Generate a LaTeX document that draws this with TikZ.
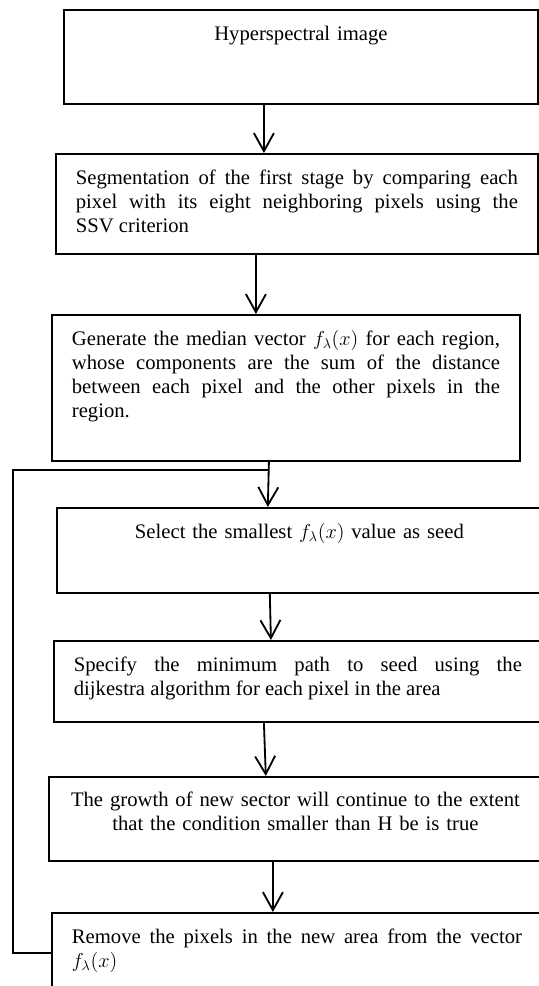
\documentclass[tikz,border=0pt]{standalone}
\usepackage{fontspec}
\setmainfont{Liberation Serif}
\usepackage{tikz}
\usetikzlibrary{positioning,calc,arrows.meta}

\tikzset{
  stepbox/.style={draw, line width=1.3pt, rectangle, anchor=north west,
    inner xsep=0.5cm, inner ysep=0pt, text height=0.775cm, align=justify,
    font=\fontsize{14.7}{17.07}\selectfont},
  flow/.style={line width=1.3pt, -{Straight Barb[length=4.5mm, width=5mm]}},
  loopline/.style={line width=1.3pt},
}

\begin{document}
\begin{tikzpicture}
  \useasboundingbox (0,0) rectangle (13.45,-24.65);

  % Steps
  \node[stepbox, align=center, text width=10.85cm, text depth=1.575cm] (b1) at (1.575,-0.225)
    {Hyperspectral image};
  \node[stepbox, text width=11.05cm, text depth=1.725cm] (b2) at (1.375,-3.825)
    {Segmentation of the first stage by comparing each\linebreak pixel with its eight neighboring pixels using the\linebreak SSV criterion};
  \node[stepbox, text width=10.7cm, text depth=2.875cm] (b3) at (1.275,-7.85)
    {Generate the median vector $f_\lambda(x)$ for each region,\linebreak whose components are the sum of the distance\linebreak between each pixel and the other pixels in the\linebreak region.};
  \node[stepbox, align=center, text width=11.125cm, text depth=1.35cm] (b4) at (1.4,-12.675)
    {Select the smallest $f_\lambda(x)$ value as seed};
  \node[stepbox, text width=11.2cm, text depth=1.25cm] (b5) at (1.325,-16)
    {Specify the minimum path to seed using the\linebreak dijkestra algorithm for each pixel in the area};
  \node[stepbox, align=center, text width=11.325cm, text height=0.75cm, text depth=1.35cm] (b6) at (1.2,-19.4)
    {The growth of new sector will continue to the extent\\that the condition smaller than H be is true};
  \node[stepbox, text width=11.25cm, text depth=1.425cm] (b7) at (1.275,-22.8)
    {Remove the pixels in the new area from the vector\linebreak $f_\lambda(x)$};

  % Arrows
  \draw[flow] ([xshift=-0.925cm]b1.south) -- ([xshift=-0.825cm]b2.north);
  \draw[flow] ([xshift=-1.025cm]b2.south) -- ([xshift=-0.75cm]b3.north);
  \draw[flow] ([xshift=-0.425cm]b3.south) -- ([xshift=-0.79cm]b4.north);
  \draw[flow] ([xshift=-0.74cm]b4.south) -- ([xshift=-0.675cm]b5.north);
  \draw[flow] ([xshift=-0.85cm]b5.south) -- ([xshift=-0.74cm]b6.north);
  \draw[flow] ([xshift=-0.5625cm]b6.south) -- ([xshift=-0.6cm]b7.north);

  % Loop back
  \coordinate (join) at ([xshift=-0.425cm, yshift=-0.2cm]b3.south);
  \draw[loopline] ([yshift=0.1cm]b7.west) -- ++(-0.95,0) |- (join);
\end{tikzpicture}
\end{document}
